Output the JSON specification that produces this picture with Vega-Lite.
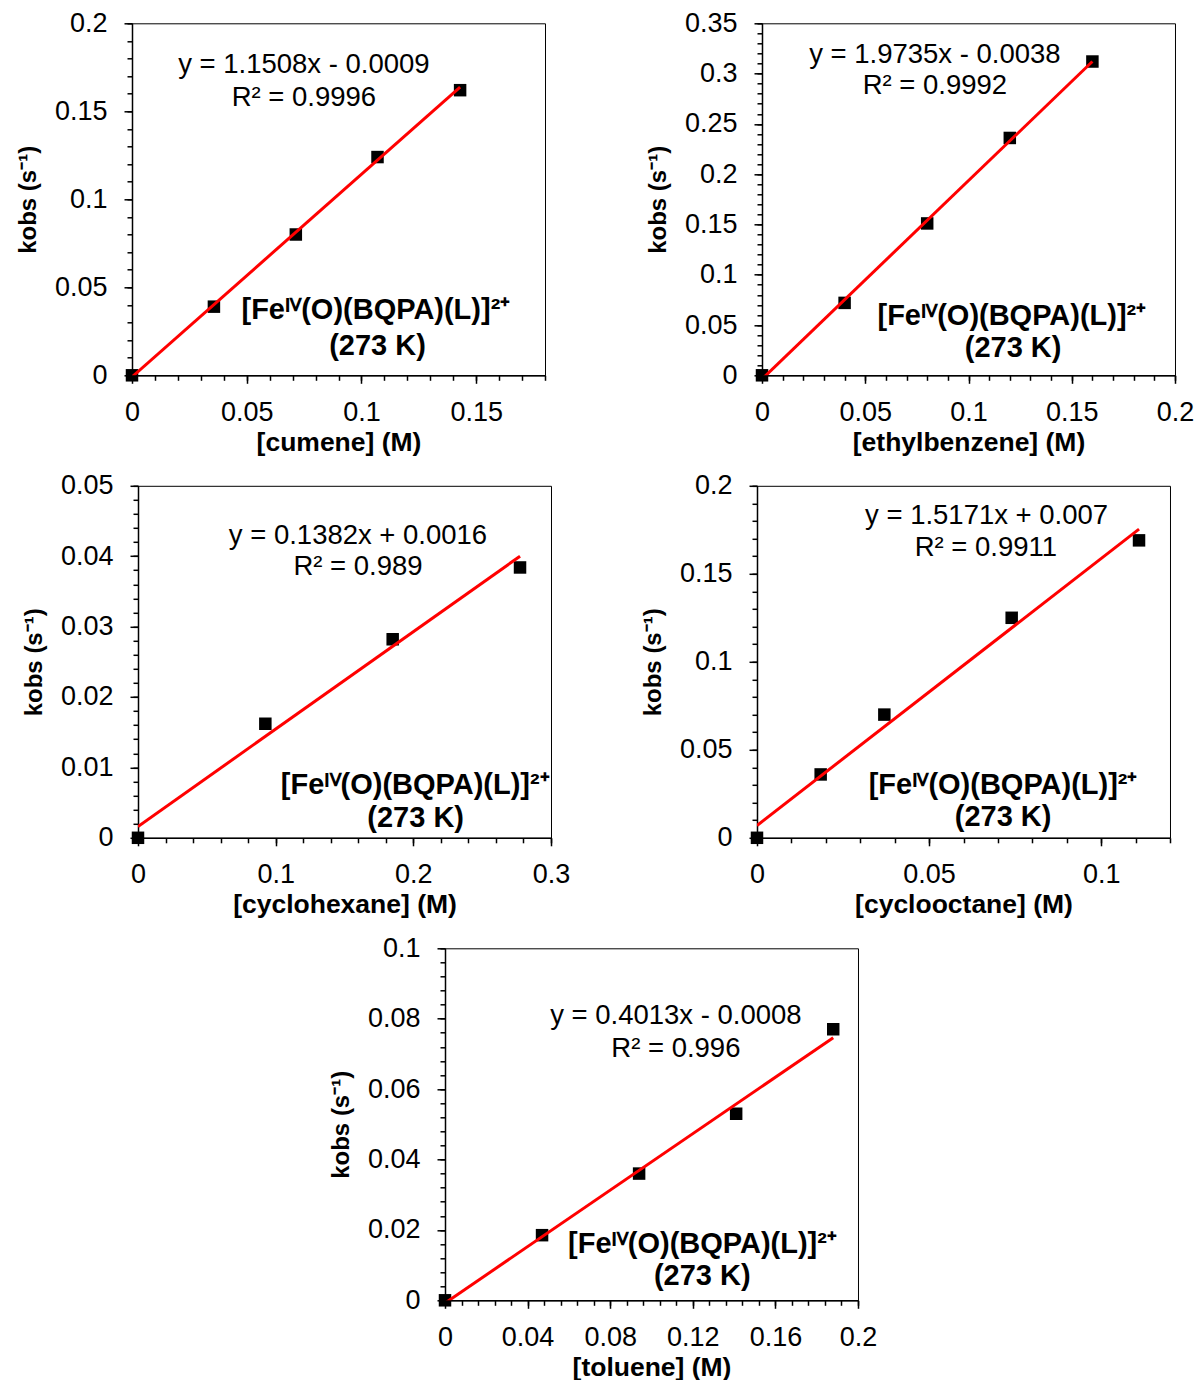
{
  "$schema": "https://vega.github.io/schema/vega-lite/v6.json",
  "background": "white",
  "padding": {"left": 15, "top": 8.3, "right": 5, "bottom": 5},
  "datasets": {
    "points": [
      {"panel": "cumene", "x": 0, "y": 0},
      {"panel": "cumene", "x": 0.0357, "y": 0.039},
      {"panel": "cumene", "x": 0.0714, "y": 0.080},
      {"panel": "cumene", "x": 0.107, "y": 0.124},
      {"panel": "cumene", "x": 0.143, "y": 0.162},
      {"panel": "ethylbenzene", "x": 0, "y": 0},
      {"panel": "ethylbenzene", "x": 0.04, "y": 0.072},
      {"panel": "ethylbenzene", "x": 0.08, "y": 0.151},
      {"panel": "ethylbenzene", "x": 0.12, "y": 0.236},
      {"panel": "ethylbenzene", "x": 0.16, "y": 0.312},
      {"panel": "cyclohexane", "x": 0, "y": 0},
      {"panel": "cyclohexane", "x": 0.0925, "y": 0.0162},
      {"panel": "cyclohexane", "x": 0.185, "y": 0.0282},
      {"panel": "cyclohexane", "x": 0.2775, "y": 0.0384},
      {"panel": "cyclooctane", "x": 0, "y": 0},
      {"panel": "cyclooctane", "x": 0.0185, "y": 0.036},
      {"panel": "cyclooctane", "x": 0.037, "y": 0.070},
      {"panel": "cyclooctane", "x": 0.074, "y": 0.125},
      {"panel": "cyclooctane", "x": 0.111, "y": 0.169},
      {"panel": "toluene", "x": 0, "y": 0},
      {"panel": "toluene", "x": 0.047, "y": 0.0185},
      {"panel": "toluene", "x": 0.094, "y": 0.036},
      {"panel": "toluene", "x": 0.141, "y": 0.053},
      {"panel": "toluene", "x": 0.188, "y": 0.077}
    ],
    "fits": [
      {"panel": "cumene", "x": 0, "y": -0.0009},
      {"panel": "cumene", "x": 0.143, "y": 0.1637},
      {"panel": "ethylbenzene", "x": 0, "y": -0.0038},
      {"panel": "ethylbenzene", "x": 0.16, "y": 0.312},
      {"panel": "cyclohexane", "x": 0, "y": 0.0016},
      {"panel": "cyclohexane", "x": 0.2775, "y": 0.04},
      {"panel": "cyclooctane", "x": 0, "y": 0.007},
      {"panel": "cyclooctane", "x": 0.111, "y": 0.1754},
      {"panel": "toluene", "x": 0, "y": -0.0008},
      {"panel": "toluene", "x": 0.188, "y": 0.0746}
    ],
    "labels": [
      {"panel": "cumene", "kind": "eq", "x": 0.0749, "y": 0.1765, "text": "y = 1.1508x - 0.0009"},
      {"panel": "cumene", "kind": "eq", "x": 0.0749, "y": 0.1576, "text": "R² = 0.9996"},
      {"panel": "cumene", "kind": "ann", "x": 0.1063, "y": 0.0373, "text": "[Feᴵⱽ(O)(BQPA)(L)]²⁺"},
      {"panel": "cumene", "kind": "ann", "x": 0.107, "y": 0.0165, "text": "(273 K)"},
      {"panel": "ethylbenzene", "kind": "eq", "x": 0.0837, "y": 0.3189, "text": "y = 1.9735x - 0.0038"},
      {"panel": "ethylbenzene", "kind": "eq", "x": 0.0837, "y": 0.288, "text": "R² = 0.9992"},
      {"panel": "ethylbenzene", "kind": "ann", "x": 0.121, "y": 0.0594, "text": "[Feᴵⱽ(O)(BQPA)(L)]²⁺"},
      {"panel": "ethylbenzene", "kind": "ann", "x": 0.1216, "y": 0.0272, "text": "(273 K)"},
      {"panel": "cyclohexane", "kind": "eq", "x": 0.1598, "y": 0.04286, "text": "y = 0.1382x + 0.0016"},
      {"panel": "cyclohexane", "kind": "eq", "x": 0.1598, "y": 0.0384, "text": "R² = 0.989"},
      {"panel": "cyclohexane", "kind": "ann", "x": 0.2014, "y": 0.00749, "text": "[Feᴵⱽ(O)(BQPA)(L)]²⁺"},
      {"panel": "cyclohexane", "kind": "ann", "x": 0.2017, "y": 0.00276, "text": "(273 K)"},
      {"panel": "cyclooctane", "kind": "eq", "x": 0.0667, "y": 0.1828, "text": "y = 1.5171x + 0.007"},
      {"panel": "cyclooctane", "kind": "eq", "x": 0.0665, "y": 0.1644, "text": "R² = 0.9911"},
      {"panel": "cyclooctane", "kind": "ann", "x": 0.0715, "y": 0.0299, "text": "[Feᴵⱽ(O)(BQPA)(L)]²⁺"},
      {"panel": "cyclooctane", "kind": "ann", "x": 0.0715, "y": 0.0119, "text": "(273 K)"},
      {"panel": "toluene", "kind": "eq", "x": 0.1118, "y": 0.0808, "text": "y = 0.4013x - 0.0008"},
      {"panel": "toluene", "kind": "eq", "x": 0.1118, "y": 0.0715, "text": "R² = 0.996"},
      {"panel": "toluene", "kind": "ann", "x": 0.1247, "y": 0.0159, "text": "[Feᴵⱽ(O)(BQPA)(L)]²⁺"},
      {"panel": "toluene", "kind": "ann", "x": 0.1246, "y": 0.0069, "text": "(273 K)"}
    ]
  },
  "config": {
    "font": "Liberation Sans",
    "view": {"stroke": "black", "strokeWidth": 1},
    "axis": {
      "domainColor": "black", "domainWidth": 1.5,
      "tickColor": "black", "tickWidth": 1.5,
      "labelColor": "black", "labelFont": "Liberation Sans", "labelFontSize": 27,
      "labelOverlap": false, "labelFlush": false, "labelBound": false,
      "grid": false,
      "titleColor": "black", "titleFont": "Liberation Sans", "titleFontWeight": "bold", "titleFontSize": 26.5
    },
    "axisX": {"labelPadding": 16, "titlePadding": 4},
    "axisY": {"labelPadding": 17, "titlePadding": 14, "titleFontSize": 24}
  },
  "bounds": "full",
  "spacing": 14.5,
  "vconcat": [
    {
      "bounds": "flush",
      "spacing": 217,
      "hconcat": [
        {
          "width": 413, "height": 352,
          "resolve": {"axis": {"x": "independent", "y": "independent"}},
          "layer": [
            {
              "data": {"name": "points"}, "transform": [{"filter": "datum.panel === 'cumene'"}],
              "mark": {"type": "point", "shape": "square", "filled": true, "size": 156, "color": "black", "opacity": 1},
              "encoding": {
                "x": {"field": "x", "type": "quantitative", "scale": {"domain": [0, 0.18], "nice": false, "zero": false},
                  "axis": {"orient": "bottom", "values": [0, 0.05, 0.1, 0.15], "tickSize": 8, "format": "~g", "title": "[cumene] (M)"}},
                "y": {"field": "y", "type": "quantitative", "scale": {"domain": [0, 0.2], "nice": false, "zero": false},
                  "axis": {"orient": "left", "values": [0, 0.05, 0.1, 0.15, 0.2], "tickSize": 8, "format": "~g", "title": "kobs (s⁻¹)"}}
              }
            },
            {
              "data": {"name": "fits"}, "transform": [{"filter": "datum.panel === 'cumene'"}],
              "mark": {"type": "line", "color": "#ff0000", "strokeWidth": 3, "clip": true},
              "encoding": {
                "x": {"field": "x", "type": "quantitative",
                  "axis": {"orient": "bottom", "values": [0,0.01,0.02,0.03,0.04,0.05,0.06,0.07,0.08,0.09,0.1,0.11,0.12,0.13,0.14,0.15,0.16,0.17,0.18], "tickSize": 5, "labels": false, "domain": false, "title": null}},
                "y": {"field": "y", "type": "quantitative",
                  "axis": {"orient": "left", "values": [0,0.01,0.02,0.03,0.04,0.05,0.06,0.07,0.08,0.09,0.1,0.11,0.12,0.13,0.14,0.15,0.16,0.17,0.18,0.19,0.2], "tickSize": 5, "labels": false, "domain": false, "title": null}}
              }
            },
            {
              "data": {"name": "labels"}, "transform": [{"filter": "datum.panel === 'cumene' && datum.kind === 'eq'"}],
              "mark": {"type": "text", "fontSize": 27.5, "color": "black", "align": "center", "baseline": "middle"},
              "encoding": {
                "x": {"field": "x", "type": "quantitative", "axis": null},
                "y": {"field": "y", "type": "quantitative", "axis": null},
                "text": {"field": "text"}
              }
            },
            {
              "data": {"name": "labels"}, "transform": [{"filter": "datum.panel === 'cumene' && datum.kind === 'ann'"}],
              "mark": {"type": "text", "fontSize": 29, "fontWeight": "bold", "color": "black", "align": "center", "baseline": "middle"},
              "encoding": {
                "x": {"field": "x", "type": "quantitative", "axis": null},
                "y": {"field": "y", "type": "quantitative", "axis": null},
                "text": {"field": "text"}
              }
            }
          ]
        },
        {
          "width": 413, "height": 352,
          "resolve": {"axis": {"x": "independent", "y": "independent"}},
          "layer": [
            {
              "data": {"name": "points"}, "transform": [{"filter": "datum.panel === 'ethylbenzene'"}],
              "mark": {"type": "point", "shape": "square", "filled": true, "size": 156, "color": "black", "opacity": 1},
              "encoding": {
                "x": {"field": "x", "type": "quantitative", "scale": {"domain": [0, 0.2], "nice": false, "zero": false},
                  "axis": {"orient": "bottom", "values": [0, 0.05, 0.1, 0.15, 0.2], "tickSize": 8, "format": "~g", "title": "[ethylbenzene] (M)"}},
                "y": {"field": "y", "type": "quantitative", "scale": {"domain": [0, 0.35], "nice": false, "zero": false},
                  "axis": {"orient": "left", "values": [0, 0.05, 0.1, 0.15, 0.2, 0.25, 0.3, 0.35], "tickSize": 8, "format": "~g", "title": "kobs (s⁻¹)"}}
              }
            },
            {
              "data": {"name": "fits"}, "transform": [{"filter": "datum.panel === 'ethylbenzene'"}],
              "mark": {"type": "line", "color": "#ff0000", "strokeWidth": 3, "clip": true},
              "encoding": {
                "x": {"field": "x", "type": "quantitative",
                  "axis": {"orient": "bottom", "values": [0,0.01,0.02,0.03,0.04,0.05,0.06,0.07,0.08,0.09,0.1,0.11,0.12,0.13,0.14,0.15,0.16,0.17,0.18,0.19,0.2], "tickSize": 5, "labels": false, "domain": false, "title": null}},
                "y": {"field": "y", "type": "quantitative",
                  "axis": {"orient": "left", "values": [0,0.01,0.02,0.03,0.04,0.05,0.06,0.07,0.08,0.09,0.1,0.11,0.12,0.13,0.14,0.15,0.16,0.17,0.18,0.19,0.2,0.21,0.22,0.23,0.24,0.25,0.26,0.27,0.28,0.29,0.3,0.31,0.32,0.33,0.34,0.35], "tickSize": 5, "labels": false, "domain": false, "title": null}}
              }
            },
            {
              "data": {"name": "labels"}, "transform": [{"filter": "datum.panel === 'ethylbenzene' && datum.kind === 'eq'"}],
              "mark": {"type": "text", "fontSize": 27.5, "color": "black", "align": "center", "baseline": "middle"},
              "encoding": {
                "x": {"field": "x", "type": "quantitative", "axis": null},
                "y": {"field": "y", "type": "quantitative", "axis": null},
                "text": {"field": "text"}
              }
            },
            {
              "data": {"name": "labels"}, "transform": [{"filter": "datum.panel === 'ethylbenzene' && datum.kind === 'ann'"}],
              "mark": {"type": "text", "fontSize": 29, "fontWeight": "bold", "color": "black", "align": "center", "baseline": "middle"},
              "encoding": {
                "x": {"field": "x", "type": "quantitative", "axis": null},
                "y": {"field": "y", "type": "quantitative", "axis": null},
                "text": {"field": "text"}
              }
            }
          ]
        }
      ]
    },
    {
      "bounds": "flush",
      "spacing": 5,
      "hconcat": [
        {"width": 0.5, "height": 1, "view": {"stroke": null}, "data": {"values": [{}]}, "mark": {"type": "text", "text": ""}, "encoding": {}},
        {
          "bounds": "flush",
          "spacing": 206,
          "hconcat": [
            {
              "width": 413, "height": 352,
              "resolve": {"axis": {"x": "independent", "y": "independent"}},
              "layer": [
                {
                  "data": {"name": "points"}, "transform": [{"filter": "datum.panel === 'cyclohexane'"}],
                  "mark": {"type": "point", "shape": "square", "filled": true, "size": 156, "color": "black", "opacity": 1},
                  "encoding": {
                    "x": {"field": "x", "type": "quantitative", "scale": {"domain": [0, 0.3], "nice": false, "zero": false},
                      "axis": {"orient": "bottom", "values": [0, 0.1, 0.2, 0.3], "tickSize": 8, "format": "~g", "title": "[cyclohexane] (M)"}},
                    "y": {"field": "y", "type": "quantitative", "scale": {"domain": [0, 0.05], "nice": false, "zero": false},
                      "axis": {"orient": "left", "values": [0, 0.01, 0.02, 0.03, 0.04, 0.05], "tickSize": 8, "format": "~g", "title": "kobs (s⁻¹)"}}
                  }
                },
                {
                  "data": {"name": "fits"}, "transform": [{"filter": "datum.panel === 'cyclohexane'"}],
                  "mark": {"type": "line", "color": "#ff0000", "strokeWidth": 3, "clip": true},
                  "encoding": {
                    "x": {"field": "x", "type": "quantitative",
                      "axis": {"orient": "bottom", "values": [0,0.02,0.04,0.06,0.08,0.1,0.12,0.14,0.16,0.18,0.2,0.22,0.24,0.26,0.28,0.3], "tickSize": 5, "labels": false, "domain": false, "title": null}},
                    "y": {"field": "y", "type": "quantitative",
                      "axis": {"orient": "left", "values": [0,0.002,0.004,0.006,0.008,0.01,0.012,0.014,0.016,0.018,0.02,0.022,0.024,0.026,0.028,0.03,0.032,0.034,0.036,0.038,0.04,0.042,0.044,0.046,0.048,0.05], "tickSize": 5, "labels": false, "domain": false, "title": null}}
                  }
                },
                {
                  "data": {"name": "labels"}, "transform": [{"filter": "datum.panel === 'cyclohexane' && datum.kind === 'eq'"}],
                  "mark": {"type": "text", "fontSize": 27.5, "color": "black", "align": "center", "baseline": "middle"},
                  "encoding": {
                    "x": {"field": "x", "type": "quantitative", "axis": null},
                    "y": {"field": "y", "type": "quantitative", "axis": null},
                    "text": {"field": "text"}
                  }
                },
                {
                  "data": {"name": "labels"}, "transform": [{"filter": "datum.panel === 'cyclohexane' && datum.kind === 'ann'"}],
                  "mark": {"type": "text", "fontSize": 29, "fontWeight": "bold", "color": "black", "align": "center", "baseline": "middle"},
                  "encoding": {
                    "x": {"field": "x", "type": "quantitative", "axis": null},
                    "y": {"field": "y", "type": "quantitative", "axis": null},
                    "text": {"field": "text"}
                  }
                }
              ]
            },
            {
              "width": 413, "height": 352,
              "resolve": {"axis": {"x": "independent", "y": "independent"}},
              "layer": [
                {
                  "data": {"name": "points"}, "transform": [{"filter": "datum.panel === 'cyclooctane'"}],
                  "mark": {"type": "point", "shape": "square", "filled": true, "size": 156, "color": "black", "opacity": 1},
                  "encoding": {
                    "x": {"field": "x", "type": "quantitative", "scale": {"domain": [0, 0.12], "nice": false, "zero": false},
                      "axis": {"orient": "bottom", "values": [0, 0.05, 0.1], "tickSize": 8, "format": "~g", "title": "[cyclooctane] (M)"}},
                    "y": {"field": "y", "type": "quantitative", "scale": {"domain": [0, 0.2], "nice": false, "zero": false},
                      "axis": {"orient": "left", "values": [0, 0.05, 0.1, 0.15, 0.2], "tickSize": 8, "format": "~g", "title": "kobs (s⁻¹)"}}
                  }
                },
                {
                  "data": {"name": "fits"}, "transform": [{"filter": "datum.panel === 'cyclooctane'"}],
                  "mark": {"type": "line", "color": "#ff0000", "strokeWidth": 3, "clip": true},
                  "encoding": {
                    "x": {"field": "x", "type": "quantitative",
                      "axis": {"orient": "bottom", "values": [0,0.01,0.02,0.03,0.04,0.05,0.06,0.07,0.08,0.09,0.1,0.11,0.12], "tickSize": 5, "labels": false, "domain": false, "title": null}},
                    "y": {"field": "y", "type": "quantitative",
                      "axis": {"orient": "left", "values": [0,0.01,0.02,0.03,0.04,0.05,0.06,0.07,0.08,0.09,0.1,0.11,0.12,0.13,0.14,0.15,0.16,0.17,0.18,0.19,0.2], "tickSize": 5, "labels": false, "domain": false, "title": null}}
                  }
                },
                {
                  "data": {"name": "labels"}, "transform": [{"filter": "datum.panel === 'cyclooctane' && datum.kind === 'eq'"}],
                  "mark": {"type": "text", "fontSize": 27.5, "color": "black", "align": "center", "baseline": "middle"},
                  "encoding": {
                    "x": {"field": "x", "type": "quantitative", "axis": null},
                    "y": {"field": "y", "type": "quantitative", "axis": null},
                    "text": {"field": "text"}
                  }
                },
                {
                  "data": {"name": "labels"}, "transform": [{"filter": "datum.panel === 'cyclooctane' && datum.kind === 'ann'"}],
                  "mark": {"type": "text", "fontSize": 29, "fontWeight": "bold", "color": "black", "align": "center", "baseline": "middle"},
                  "encoding": {
                    "x": {"field": "x", "type": "quantitative", "axis": null},
                    "y": {"field": "y", "type": "quantitative", "axis": null},
                    "text": {"field": "text"}
                  }
                }
              ]
            }
          ]
        }
      ]
    },
    {
      "bounds": "flush",
      "spacing": 0,
      "hconcat": [
        {"width": 313, "height": 1, "view": {"stroke": null}, "data": {"values": [{}]}, "mark": {"type": "text", "text": ""}, "encoding": {}},
        {
          "width": 413, "height": 352,
          "resolve": {"axis": {"x": "independent", "y": "independent"}},
          "layer": [
            {
              "data": {"name": "points"}, "transform": [{"filter": "datum.panel === 'toluene'"}],
              "mark": {"type": "point", "shape": "square", "filled": true, "size": 156, "color": "black", "opacity": 1},
              "encoding": {
                "x": {"field": "x", "type": "quantitative", "scale": {"domain": [0, 0.2], "nice": false, "zero": false},
                  "axis": {"orient": "bottom", "values": [0, 0.04, 0.08, 0.12, 0.16, 0.2], "tickSize": 8, "format": "~g", "title": "[toluene] (M)"}},
                "y": {"field": "y", "type": "quantitative", "scale": {"domain": [0, 0.1], "nice": false, "zero": false},
                  "axis": {"orient": "left", "values": [0, 0.02, 0.04, 0.06, 0.08, 0.1], "tickSize": 8, "format": "~g", "title": "kobs (s⁻¹)"}}
              }
            },
            {
              "data": {"name": "fits"}, "transform": [{"filter": "datum.panel === 'toluene'"}],
              "mark": {"type": "line", "color": "#ff0000", "strokeWidth": 3, "clip": true},
              "encoding": {
                "x": {"field": "x", "type": "quantitative",
                  "axis": {"orient": "bottom", "values": [0,0.008,0.016,0.024,0.032,0.04,0.048,0.056,0.064,0.072,0.08,0.088,0.096,0.104,0.112,0.12,0.128,0.136,0.144,0.152,0.16,0.168,0.176,0.184,0.192,0.2], "tickSize": 5, "labels": false, "domain": false, "title": null}},
                "y": {"field": "y", "type": "quantitative",
                  "axis": {"orient": "left", "values": [0,0.004,0.008,0.012,0.016,0.02,0.024,0.028,0.032,0.036,0.04,0.044,0.048,0.052,0.056,0.06,0.064,0.068,0.072,0.076,0.08,0.084,0.088,0.092,0.096,0.1], "tickSize": 5, "labels": false, "domain": false, "title": null}}
              }
            },
            {
              "data": {"name": "labels"}, "transform": [{"filter": "datum.panel === 'toluene' && datum.kind === 'eq'"}],
              "mark": {"type": "text", "fontSize": 27.5, "color": "black", "align": "center", "baseline": "middle"},
              "encoding": {
                "x": {"field": "x", "type": "quantitative", "axis": null},
                "y": {"field": "y", "type": "quantitative", "axis": null},
                "text": {"field": "text"}
              }
            },
            {
              "data": {"name": "labels"}, "transform": [{"filter": "datum.panel === 'toluene' && datum.kind === 'ann'"}],
              "mark": {"type": "text", "fontSize": 29, "fontWeight": "bold", "color": "black", "align": "center", "baseline": "middle"},
              "encoding": {
                "x": {"field": "x", "type": "quantitative", "axis": null},
                "y": {"field": "y", "type": "quantitative", "axis": null},
                "text": {"field": "text"}
              }
            }
          ]
        }
      ]
    }
  ]
}
